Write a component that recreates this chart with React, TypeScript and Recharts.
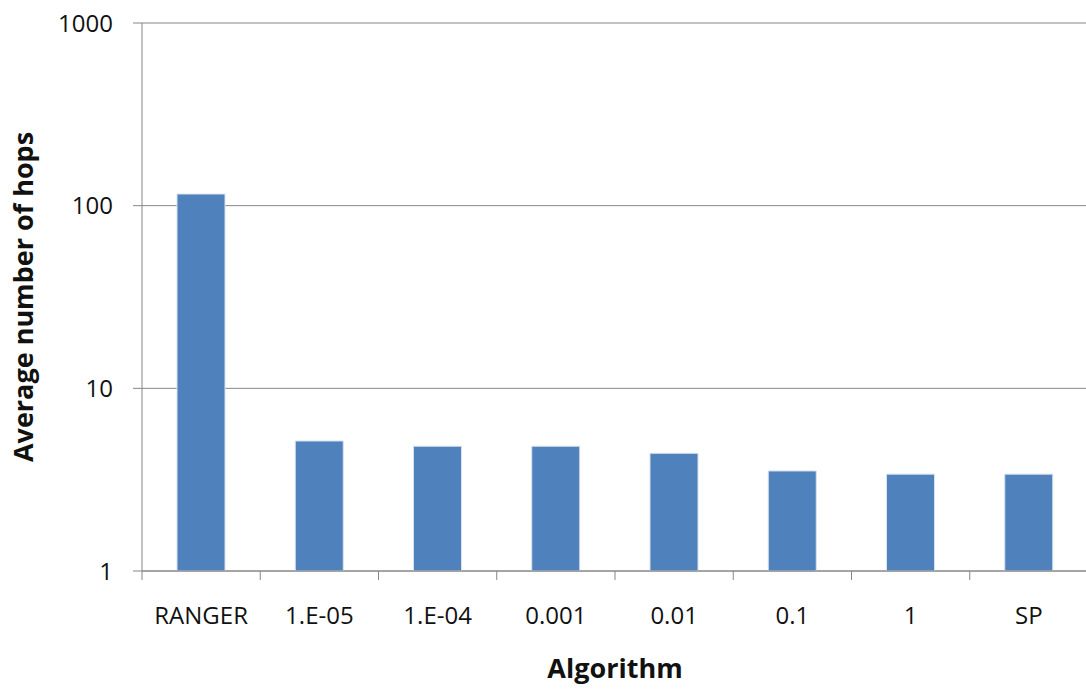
import React from "react";
import { BarChart, Bar, XAxis, YAxis, CartesianGrid } from "recharts";

const algorithms = ["RANGER", "1.E-05", "1.E-04", "0.001", "0.01", "0.1", "1", "SP"];
const avgHops = [115.8, 5.15, 4.82, 4.82, 4.41, 3.53, 3.39, 3.39];
const yTicks = [1, 10, 100, 1000];

const data = algorithms.map((name, i) => ({ name, hops: avgHops[i] }));

const W = 1100;
const H = 691;
const M = { top: 23, right: 12, left: 0, bottom: 20 };
const Y_W = 142;
const X_H = 100;
const PLOT_W = W - M.left - M.right - Y_W;
const FONT = "'Open Sans', sans-serif";
const GREY = "#868686";

function CategoryTick(props: any) {
  const { x, y, payload, index } = props;
  const band = PLOT_W / algorithms.length;
  const top = y - 9;
  const last = index === algorithms.length - 1;
  return (
    <g>
      <line x1={x - band / 2} x2={x - band / 2} y1={top} y2={top + 9} stroke={GREY} />
      {last && <line x1={x + band / 2} x2={x + band / 2} y1={top} y2={top + 9} stroke={GREY} />}
      <text x={x} y={top + 53} textAnchor="middle" fontSize={24} fontFamily={FONT} fill="#111">
        {payload.value}
      </text>
    </g>
  );
}

export default function App() {
  return (
    <div style={{ position: "absolute", left: 0, top: 0, width: 1086, height: 691, overflow: "hidden", background: "#fff" }}>
      <BarChart width={W} height={H} data={data} margin={M}>
        <CartesianGrid vertical={false} stroke={GREY} />
        <XAxis
          dataKey="name"
          height={X_H}
          stroke={GREY}
          tickLine={false}
          tickSize={9}
          tickMargin={0}
          interval={0}
          tick={<CategoryTick />}
          label={{
            content: (p: any) => (
              <text x={p.viewBox.x + p.viewBox.width / 2} y={678} textAnchor="middle" fontSize={27} fontWeight="bold" fontFamily={FONT} fill="#111">
                Algorithm
              </text>
            ),
          }}
        />
        <YAxis
          scale="log"
          domain={[1, 1000]}
          ticks={yTicks}
          allowDataOverflow
          width={Y_W}
          stroke={GREY}
          tickSize={9}
          tickMargin={20}
          tick={{ fontSize: 24, fontFamily: FONT, fill: "#111" }}
          label={{
            content: (p: any) => {
              const cy = p.viewBox.y + p.viewBox.height / 2;
              return (
                <text x={33} y={cy} transform={`rotate(-90, 33, ${cy})`} textAnchor="middle" fontSize={27} fontWeight="bold" fontFamily={FONT} fill="#111">
                  Average number of hops
                </text>
              );
            },
          }}
        />
        <Bar dataKey="hops" fill="#4F81BD" stroke="#d9e1ec" strokeWidth={1} barSize={48} isAnimationActive={false} />
      </BarChart>
    </div>
  );
}
